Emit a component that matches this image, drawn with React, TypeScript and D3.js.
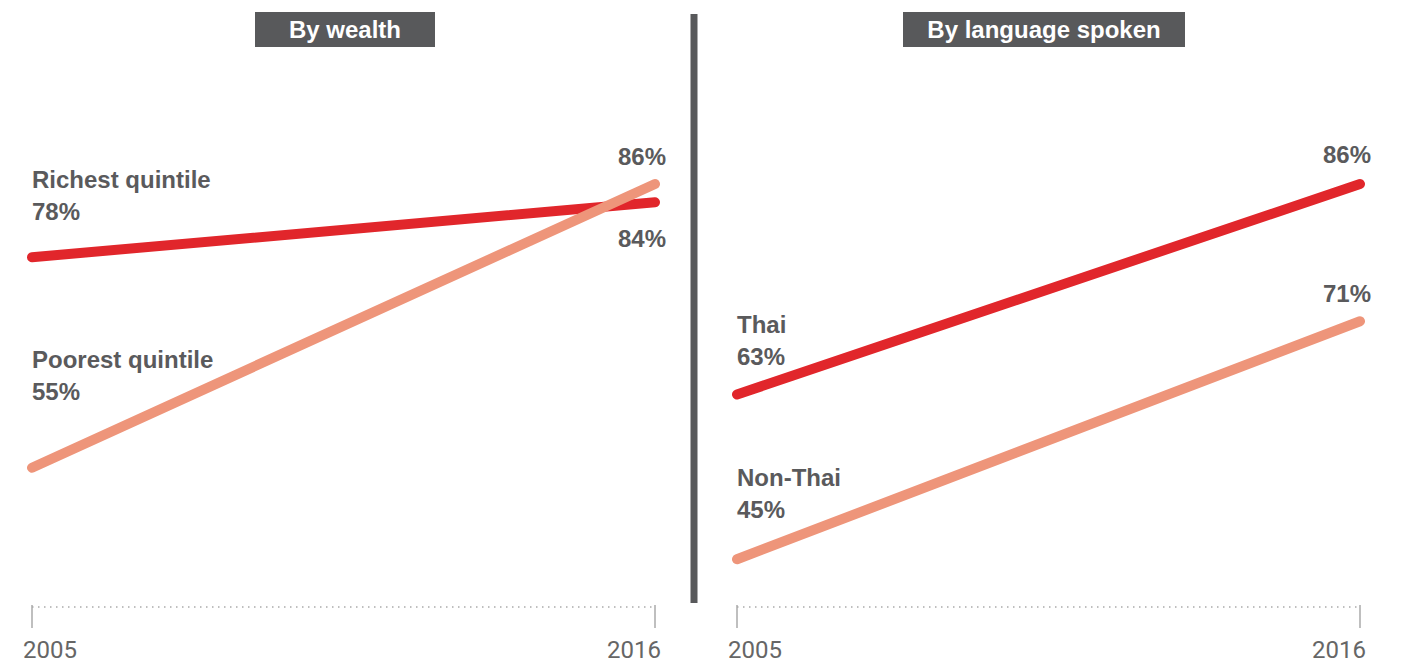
import React from "react";
import * as d3 from "d3";

const years = [2005, 2016];
const panelTitles = ["By wealth", "By language spoken"];
const wealthSeries = ["Richest quintile", "Poorest quintile"];
const richestValues = [78, 84];
const poorestValues = [55, 86];
const languageSeries = ["Thai", "Non-Thai"];
const thaiValues = [63, 86];
const nonThaiValues = [45, 71];

const RED = "#e1262b";
const SALMON = "#ee957a";
const TEXT = "#5a5a5c";
const AXIS = "#aaaaaa";

const W = 1408;
const H = 663;

const yScale = d3.scaleLinear().domain([40, 86]).range([605, 184]);

type Series = { name: string; values: number[]; color: string; startDy: number; endDy: number };

const panels: { title: string; x0: number; x1: number; boxX: number; boxW: number; series: Series[] }[] = [
  {
    title: panelTitles[0],
    x0: 32,
    x1: 655,
    boxX: 255,
    boxW: 180,
    series: [
      { name: wealthSeries[0], values: richestValues, color: RED, startDy: -69, endDy: 45 },
      { name: wealthSeries[1], values: poorestValues, color: SALMON, startDy: -100, endDy: -19 },
    ],
  },
  {
    title: panelTitles[1],
    x0: 737,
    x1: 1360,
    boxX: 903,
    boxW: 282,
    series: [
      { name: languageSeries[0], values: thaiValues, color: RED, startDy: -62, endDy: -21 },
      { name: languageSeries[1], values: nonThaiValues, color: SALMON, startDy: -73, endDy: -19 },
    ],
  },
];

const LABEL_FONT = "'Liberation Sans', Arial, sans-serif";
const AXIS_FONT = "Roboto, 'Liberation Sans', Arial, sans-serif";

function Panel({ p }: { p: (typeof panels)[number] }) {
  const x = d3.scaleLinear().domain([years[0], years[1]]).range([p.x0, p.x1]);
  const line = d3
    .line<number>()
    .x((_, i) => x(years[i]))
    .y((v) => yScale(v));
  const axisY = 607;
  return (
    <g>
      <rect x={p.boxX} y={12} width={p.boxW} height={35} fill="#58595b" />
      <text
        x={p.boxX + p.boxW / 2}
        y={38}
        textAnchor="middle"
        fill="#ffffff"
        fontFamily={LABEL_FONT}
        fontWeight={700}
        fontSize={24}
      >
        {p.title}
      </text>
      <line
        x1={x(years[0])}
        x2={x(years[1])}
        y1={axisY}
        y2={axisY}
        stroke={AXIS}
        strokeWidth={1.5}
        strokeDasharray="1.5 4.5"
      />
      {years.map((yr, i) => (
        <g key={yr}>
          <line x1={x(yr)} x2={x(yr)} y1={605} y2={628} stroke={AXIS} strokeWidth={1.5} />
          <text
            x={i === 0 ? x(yr) - 9 : x(yr) + 6}
            y={658}
            textAnchor={i === 0 ? "start" : "end"}
            fill="#666666"
            fontFamily={AXIS_FONT}
            fontSize={24}
          >
            {yr}
          </text>
        </g>
      ))}
      {p.series.map((s) => (
        <path
          key={s.name}
          d={line(s.values) || ""}
          fill="none"
          stroke={s.color}
          strokeWidth={10}
          strokeLinecap="round"
        />
      ))}
      {p.series.map((s) => {
        const sy = yScale(s.values[0]) + s.startDy;
        const ey = yScale(s.values[1]) + s.endDy;
        return (
          <g key={s.name + "-labels"} fontFamily={LABEL_FONT} fontWeight={700} fontSize={24} fill={TEXT}>
            <text x={x(years[0])} y={sy}>
              {s.name}
            </text>
            <text x={x(years[0])} y={sy + 32}>
              {s.values[0]}%
            </text>
            <text x={x(years[1]) + 11} y={ey} textAnchor="end">
              {s.values[1]}%
            </text>
          </g>
        );
      })}
    </g>
  );
}

export default function App() {
  return (
    <svg
      width={W}
      height={H}
      style={{ position: "absolute", left: 0, top: 0, background: "#ffffff" }}
    >
      <rect x={0} y={0} width={W} height={H} fill="#ffffff" />
      {panels.map((p) => (
        <Panel key={p.title} p={p} />
      ))}
      <rect x={690.5} y={14} width={7} height={589} fill="#58595b" />
    </svg>
  );
}
